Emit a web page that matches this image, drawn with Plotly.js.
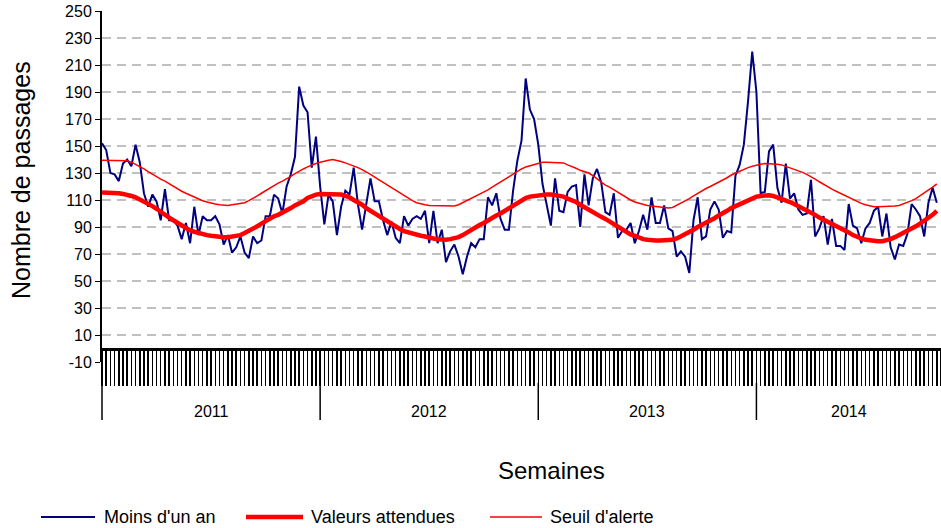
<!DOCTYPE html>
<html>
<head>
<meta charset="utf-8">
<script src="https://cdn.plot.ly/plotly-3.0.1.min.js"></script>
<style>
  html, body { margin: 0; padding: 0; background: #fff; }
  #plot { width: 941px; height: 528px; }
</style>
</head>
<body>
<div id="plot"></div>
<script>
// weekly counts, 2011 week 1 -> 2014 week 44
let arrMoinsUnAn = [
  152,147,130,129,124,137,140,135,151,138,
  115,105,114,109,95,118,95,95,91,81,
  93,78,105,84,98,95,95,98,92,77,
  84,71,75,83,71,67,83,78,80,98,
  98,114,111,100,120,129,142,194,180,175,
  134,157,120,92,114,109,84,105,117,114,
  134,107,88,108,126,109,109,95,84,94,
  82,78,98,91,96,98,96,102,78,102,
  78,88,64,72,77,68,55,68,78,75,
  81,81,112,106,115,96,88,88,117,139,
  154,200,177,170,151,122,107,91,126,102,
  101,116,120,121,90,129,106,126,133,123,
  101,99,115,82,87,88,93,78,87,99,
  88,112,93,93,106,89,87,68,72,68,
  56,95,112,81,83,103,109,103,82,87,
  86,128,136,151,183,220,190,115,116,146,
  151,119,108,137,111,115,103,99,100,125,
  83,89,98,77,96,76,76,73,107,91,
  89,78,89,93,102,105,83,100,75,66,
  77,76,85,107,103,98,83,108,119,108
];

let arrAttendues = [
  115.5,115.5,115.5,115.5,115,114.5,114,113,112,110.5,
  109,107.5,105.5,103.5,101,99,97,95,93,91,
  89,87.5,86.5,85.5,85,84,83.5,83,82.5,82.5,
  82.5,83,83,84,85.5,87,88.5,90.5,92.5,94.5,
  96.5,98,99,100.5,102,104,106,107.5,109,111.5,
  113,114,114.5,114.5,114.5,114.5,114.5,114,113,112,
  110,108.5,106.5,104,102,100,98,96,94,92,
  90,88.5,87,86,85,84,83.5,83,82,81.5,
  81,80.5,80.5,81,81.5,82.5,84,86,88,89.5,
  91.5,93,95,97,98.5,100,102,104,106,108,
  110,111.5,112.5,113,113.5,114,114,114,113.5,113,
  112.5,111,110,108.5,106.5,104.5,103,101,99.5,97.5,
  96,94,92,90,88,86,84.5,83.5,82,81,
  80.5,80,80,80,80,80,80.5,81.5,83,85,
  86.5,88,90,91.5,93,95,96.5,98.5,100,102,
  104,105.5,107,108.5,110,111.5,112.5,113,113.5,113.5,
  113,112,111,110,108.5,107,105.5,104,102,100.5,
  99,97,95.5,94,92.5,91,89,87.5,86,84,
  82.5,81.5,80.5,80,79.5,79.5,79.5,80,81,82.5,
  84,85.5,87.5,89,90.5,92.5,94.5,96.5,99,102
];

let arrSeuil = [
  139.5,139.5,139.5,139.5,139.5,139.5,139,138,136.5,135,
  133,131,129,127.5,125.5,124,122,120,118.5,116.5,
  115,113.5,112,110.5,109.5,108.5,107.5,107,106.5,106,
  106,106.5,107,107.5,108,109.5,111,113,115,117,
  119,121,122.5,124,125.5,127.5,129.5,131.5,133,134.5,
  136,137,138,139,139.5,140,139.5,138.5,137.5,136.5,
  135,134,132.5,131,129,127,125,123,121,119,
  117,115,113,111,109.5,108,107,106.5,106,106,
  105.5,105.5,105.5,105.5,105.5,106.5,108,109.5,111,112.5,
  114,116,117.5,119.5,121.5,123,125,127.5,129.5,131.5,
  133,134.5,135.5,136.5,137.5,138,138,138,138,138,
  137.5,136,135,133.5,132,131,130,128,125.5,123.5,
  121,119.5,117.5,115.5,114,112,110,108.5,107.5,106.5,
  106,105.5,105,104.5,104,104,104.5,106,107.5,109,
  111,113,115,116.5,118.5,120,121.5,123.5,125,126.5,
  128.5,130,131.5,133,134,135,136,136.5,137,137,
  137,136.5,136,135,134,133,131.5,130.5,129,127.5,
  125.5,123.5,121.5,119.5,118,116.5,115,113.5,112,110.5,
  108.5,107.5,106.5,105.5,105,105,105,105,105,105.5,
  106,107,108,109.5,111,113,115,117,119.5,122
];

let arrYears = ["2011", "2012", "2013", "2014"];
let arrYearStart = [0, 52, 104, 156];
let intWeekEnd = 200;

let arrYTicks = [-10, 10, 30, 50, 70, 90, 110, 130, 150, 170, 190, 210, 230, 250];
let arrYTickText = arrYTicks.map(v => String(v));   // plain hyphen for -10

let arrWeeks = arrMoinsUnAn.map((v, i) => i);

const FONT = "Liberation Sans, Arial, sans-serif";

// plot box in pixels, used to place the things outside the axes
const L = 102, T = 11, W = 839, H = 351;
function px(x) { return (x - L) / W; }
function py(y) { return (T + H - y) / H; }

let traceBlue = {
  x: arrWeeks, y: arrMoinsUnAn, name: "Moins d'un an",
  type: "scatter", mode: "lines",
  line: {color: "#000080", width: 2}
};
let traceAttendues = {
  x: arrWeeks, y: arrAttendues, name: "Valeurs attendues",
  type: "scatter", mode: "lines",
  line: {color: "#ff0000", width: 4.5}
};
let traceSeuil = {
  x: arrWeeks, y: arrSeuil, name: "Seuil d'alerte",
  type: "scatter", mode: "lines",
  line: {color: "#ff0000", width: 1.5}
};

let shapes = [];
let annotations = [];

// year separators + labels under the week ticks
arrYearStart.forEach((w, k) => {
  shapes.push({type: "line", xref: "paper", yref: "paper",
    x0: w / intWeekEnd, x1: w / intWeekEnd, y0: py(383), y1: py(420),
    line: {color: "#000", width: 1.5}});
  let wEnd = k < arrYearStart.length - 1 ? arrYearStart[k + 1] : intWeekEnd;
  annotations.push({xref: "paper", yref: "paper",
    x: (w + wEnd) / 2 / intWeekEnd, y: py(411),
    xanchor: "center", yanchor: "middle",
    text: arrYears[k], showarrow: false, font: {size: 16}});
});

annotations.push({xref: "paper", yref: "paper", x: px(21), y: py(180),
  xanchor: "center", yanchor: "middle",
  text: "Nombre de passages", textangle: -90, showarrow: false,
  font: {size: 25}});
annotations.push({xref: "paper", yref: "paper", x: px(551), y: py(470),
  xanchor: "center", yanchor: "middle",
  text: "Semaines", showarrow: false, font: {size: 24}});

// legend drawn by hand so the line samples are as long as in the original
let arrLegend = [
  {tr: traceBlue, x0: 41, x1: 95, tx: 102},
  {tr: traceAttendues, x0: 246, x1: 303, tx: 309},
  {tr: traceSeuil, x0: 490, x1: 542, tx: 548}
];
arrLegend.forEach(o => {
  shapes.push({type: "line", xref: "paper", yref: "paper",
    x0: px(o.x0), x1: px(o.x1), y0: py(517), y1: py(517),
    line: {color: o.tr.line.color, width: o.tr.line.width}});
  annotations.push({xref: "paper", yref: "paper", x: px(o.tx), y: py(517),
    xanchor: "left", yanchor: "middle", text: o.tr.name, showarrow: false,
    font: {size: 18}});
});

let layout = {
  width: 941,
  height: 528,
  margin: {l: L, r: 941 - L - W, t: T, b: 528 - T - H, pad: 0},
  paper_bgcolor: "#fff",
  plot_bgcolor: "#fff",
  font: {family: FONT, color: "#000"},
  showlegend: false,
  xaxis: {
    range: [0, intWeekEnd],
    anchor: "free",
    position: 10 / 260,
    showline: true, linecolor: "#000", linewidth: 3,
    ticks: "outside", ticklen: 35, tickwidth: 1.5, tickcolor: "#000",
    tick0: 0, dtick: 1,
    showticklabels: false, showgrid: false, zeroline: false
  },
  yaxis: {
    range: [-10, 250],
    tickmode: "array", tickvals: arrYTicks, ticktext: arrYTickText,
    ticks: "outside", ticklen: 5, tickwidth: 1, tickcolor: "#000",
    showline: true, linecolor: "#000", linewidth: 2,
    showgrid: true, gridcolor: "#c0c0c0", gridwidth: 2, griddash: "9px,6px",
    zeroline: false,
    tickfont: {size: 16}
  },
  shapes: shapes,
  annotations: annotations
};

Plotly.newPlot("plot", [traceBlue, traceAttendues, traceSeuil], layout, {staticPlot: true});
</script>
</body>
</html>
